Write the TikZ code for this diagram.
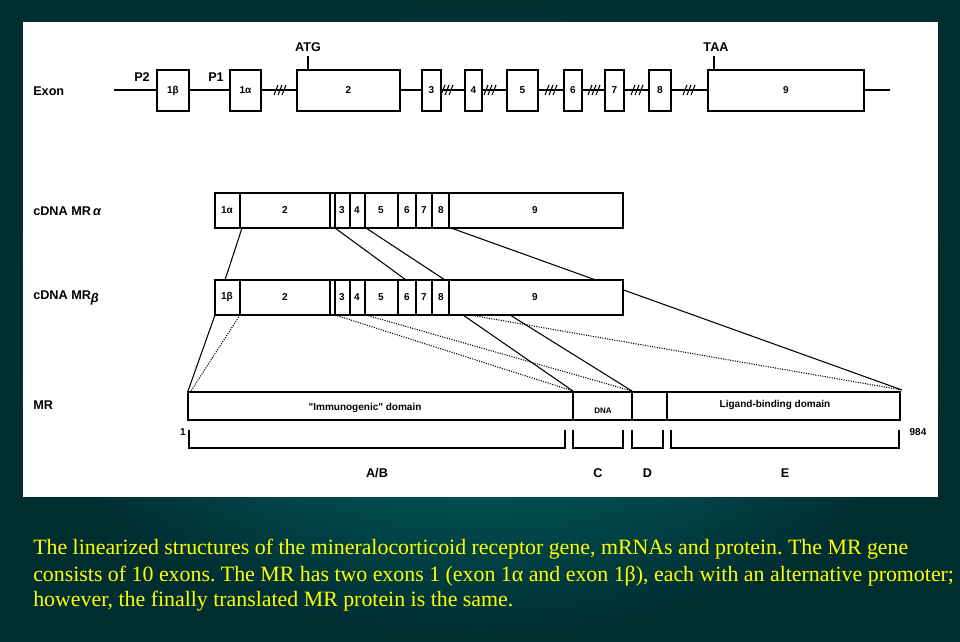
\documentclass[tikz,border=0pt]{standalone}
\usepackage{fontspec}
\setmainfont{Liberation Serif}
\newfontfamily\arialfont{Liberation Sans}
\usetikzlibrary{positioning}
\frenchspacing
\definecolor{bgdark}{RGB}{0,45,48}
\definecolor{bglight}{RGB}{0,118,120}
\definecolor{captyellow}{RGB}{255,255,0}
\tikzstyle{lab} = [font=\arialfont\bfseries\fontsize{9.5}{10}\selectfont, inner sep=0pt]
\tikzstyle{small} = [font=\arialfont\bfseries\fontsize{7.5}{8}\selectfont, inner sep=0pt]
\tikzstyle{box} = [draw, line width=1.6pt, fill=white]
\tikzstyle{thin} = [draw, line width=0.8pt]
\tikzstyle{dots} = [draw, line width=0.8pt, densely dotted]
\tikzstyle{captext} = [font=\fontsize{16.4}{19}\selectfont, text=captyellow, inner sep=0pt, anchor=west]

\begin{document}
\begin{tikzpicture}[x=0.75pt,y=-0.75pt]

  % background and white panel
  \shade[inner color=bglight, outer color=bgdark] (0,0) rectangle (960,642);
  \useasboundingbox (0,0) rectangle (960,642);
  \fill[white] (23,22) rectangle (938,497);

  % row labels
  \node[lab, anchor=west] (exonlab) at (33,91) {Exon};
  \node[lab, anchor=west] (alab) at (33,211) {cDNA MR\,\itshape α};
  \node[lab, anchor=west] (blab) at (33,298) {cDNA MR\raisebox{-2pt}{\itshape β}};
  \node[lab, anchor=west] (mrlab) at (33,405) {MR};

  % gene line with exons
  \draw[line width=2pt] (114,90) -- (890,90);
  \foreach \xa/\xb/\name in {157/189/1β, 230/261/1α, 297/400/2,
      422/441/3, 465/482/4, 507/538/5, 564/582/6, 605/624/7, 649/671/8, 708/864/9}
    \draw[box] (\xa,70) rectangle (\xb,111) node[small, midway] {\name};
  \foreach \x in {280, 447, 490, 551, 594, 637, 689}
    \foreach \d in {-4,0,4}
      \draw[line width=0.8pt] (\x+\d-2,95) -- (\x+\d+2,85);
  \node[lab] (p2) at (142,77) {P2};
  \node[lab] (p1) at (216,77) {P1};
  \node[lab] (atg) at (308,47) {ATG};
  \node[lab] (taa) at (716,47) {TAA};
  \draw[thin] (308,56) -- (308,70);
  \draw[thin] (714,56) -- (714,70);

  % connectors between cDNAs and protein
  \coordinate (a1) at (242,228);
  \coordinate (a3) at (335,228);
  \coordinate (a5) at (366,228);
  \coordinate (a9) at (451,228);
  \coordinate (b1) at (225,280);
  \coordinate (b6) at (406,280);
  \coordinate (b8) at (445,280);
  \coordinate (mrl) at (188,391);
  \coordinate (mrc) at (573,391);
  \coordinate (mrd) at (632,391);
  \coordinate (mrr) at (902,390);
  \path[thin] (a1) -- (b1);
  \path[thin] (a3) -- (b6);
  \path[thin] (a5) -- (b8);
  \path[thin] (a9) -- (mrr);
  \path[thin] (215,315) -- (mrl);
  \path[dots] (240,315) -- (191,391);
  \path[dots] (335,315) -- (mrc);
  \path[dots] (366,315) -- (mrd);
  \path[dots] (470,315) -- (mrr);
  \path[thin] (463,315) -- (mrc);
  \path[thin] (510,315) -- (mrd);

  % cDNA boxes
  \foreach \y/\first in {193/1α, 280/1β} {
    \draw[box] (215,\y) rectangle (623,\y+35);
    \foreach \x in {240,330,335,350,365,398,416,432,449}
      \draw[line width=1.2pt] (\x,\y) -- (\x,\y+35);
    \foreach \xc/\name in {227/\first, 285/2, 342/3, 357/4, 381/5, 407/6, 424/7, 441/8, 535/9}
      \node[small] at (\xc,\y+17) {\name};
  }

  % protein
  \draw[box] (188,392) rectangle (900,420);
  \foreach \x in {573,632,667}
    \draw[line width=1.2pt] (\x,392) -- (\x,420);
  \node[small] (immu) at (365,408) {"Immunogenic" domain};
  \node[small, font=\arialfont\bfseries\fontsize{6}{7}\selectfont] (dna) at (603,411) {DNA};
  \node[small] (lbd) at (775,405) {Ligand-binding domain};
  \node[small] (one) at (183,432) {1};
  \node[small] (end) at (918,432) {984};

  % domain brackets
  \foreach \xa/\xb/\name in {189/565/{A/B}, 573/623/C, 632/663/D, 671/899/E} {
    \draw[line width=1.6pt] (\xa,430) -- (\xa,448) -- (\xb,448) -- (\xb,430);
    \node[lab] at ({(\xa+\xb)/2},473) {\name};
  }

  % caption
  \node[captext] (cap1) at (33,549) {The linearized structures of the mineralocorticoid receptor gene, mRNAs and protein. The MR gene};
  \node[captext] (cap2) at (33,576) {consists of 10 exons. The MR has two exons 1 (exon 1α and exon 1β), each with an alternative promoter;};
  \node[captext] (cap3) at (33,601) {however, the finally translated MR protein is the same.};
\end{tikzpicture}
\end{document}
